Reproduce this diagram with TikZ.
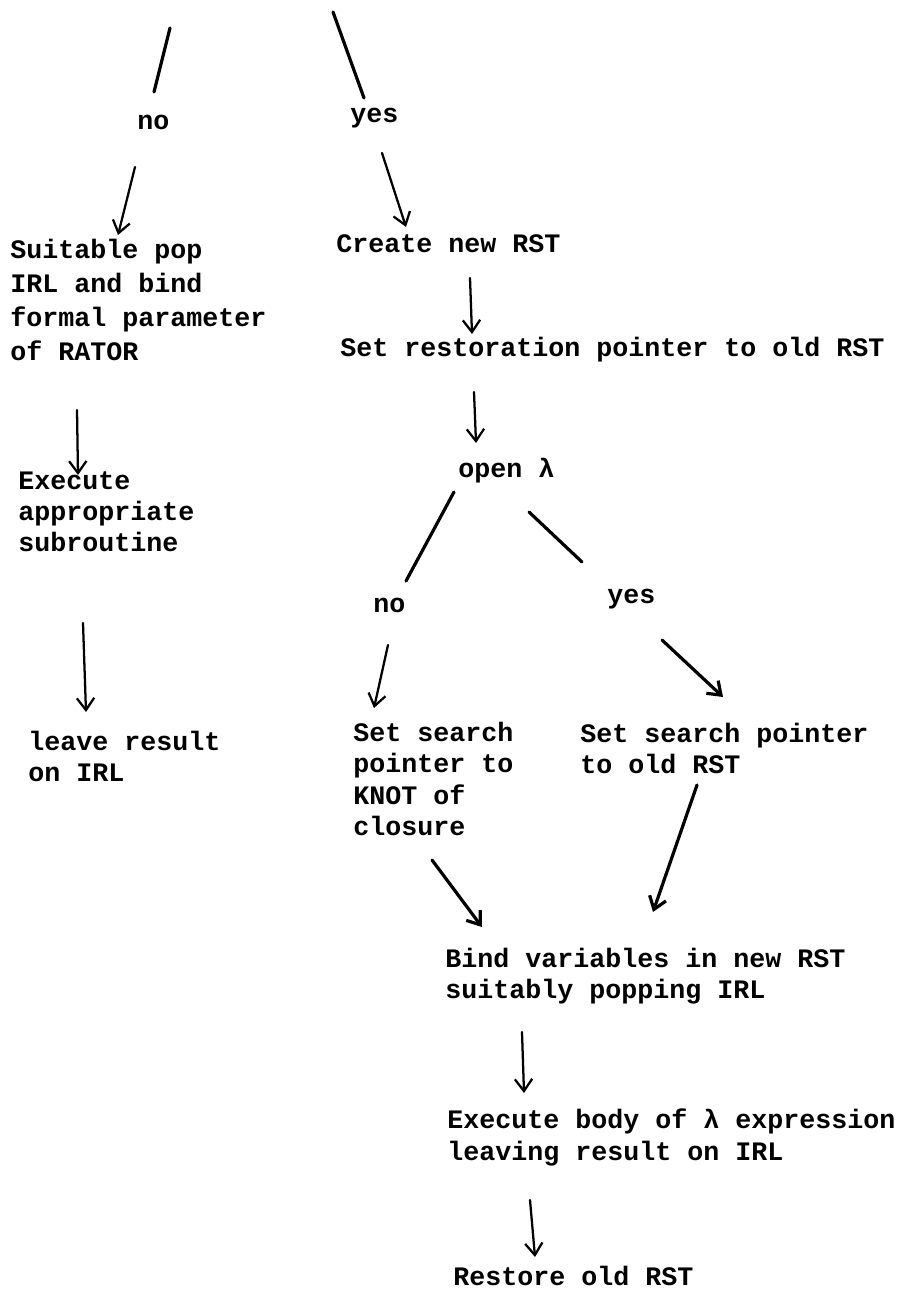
\documentclass[tikz,border=0pt]{standalone}
\usepackage{fontspec}
\setmonofont{Liberation Mono}
\usetikzlibrary{arrows.meta,calc}

\tikzset{
  txt/.style={inner sep=0pt, align=left, font=\ttfamily\bfseries\fontsize{20}{23.5}\selectfont},
  wire/.style={line width=1.7pt, line cap=round},
  heavy/.style={line width=2.4pt, line cap=round},
  arr/.style={-{Straight Barb[length=9pt,width=13pt]}},
}

\begin{document}
\begin{tikzpicture}[x=0.75pt,y=-0.75pt]
    \useasboundingbox (0,0) rectangle (917,1294);
    % left branch
    \coordinate (topno) at (170,28);
    \coordinate (topyes) at (333,12);
    \node[txt,anchor=base west] (no1) at (137,130) {no};
    \node[txt,anchor=base west] (yes1) at (350,123) {yes};
    \node[txt,anchor=north west,font=\ttfamily\bfseries\fontsize{20}{25.5}\selectfont] (suit) at (10,239)
        {Suitable pop\\IRL and bind\\formal parameter\\of RATOR};
    \node[txt,anchor=north west] (exec1) at (18,471) {Execute\\appropriate\\subroutine};
    \node[txt,anchor=north west] (leave) at (28,731) {leave result\\on IRL};
    % right branch
    \node[txt,anchor=base west] (create) at (336,253) {Create new RST};
    \node[txt,anchor=base west] (setrest) at (340,356) {Set restoration pointer to old RST};
    \node[txt,anchor=base west] (open) at (458,477) {open λ};
    \node[txt,anchor=base west] (no2) at (373,612) {no};
    \node[txt,anchor=base west] (yes2) at (607,603) {yes};
    \node[txt,anchor=north west] (search1) at (353,722) {Set search\\pointer to\\KNOT of\\closure};
    \node[txt,anchor=north west] (search2) at (580,723) {Set search pointer\\to old RST};
    \node[txt,anchor=north west] (bind) at (445,948) {Bind variables in new RST\\suitably popping IRL};
    \node[txt,anchor=north west] (execbody) at (447,1109) {Execute body of λ expression\\leaving result on IRL};
    \node[txt,anchor=base west] (restore) at (453,1285) {Restore old RST};

    \draw[heavy] (topno) -- ($(no1.base west)+(17,-38)$);
    \draw[heavy] (topyes) -- ($(yes1.base west)+(14,-25)$);
    \draw[wire,arr] ($(no1.base west)+(-2,37)$) -- ($(suit.north west)+(108,-4)$);
    \draw[wire,arr] ($(suit.north west)+(67,171)$) -- ($(exec1.north west)+(60,4)$);
    \draw[wire,arr] ($(exec1.north west)+(65,152)$) -- ($(leave.north west)+(58,-19)$);
    \draw[wire,arr] ($(yes1.base west)+(32,30)$) -- ($(create.base west)+(70,-26)$);
    \draw[wire,arr] ($(create.base west)+(134,25)$) -- ($(setrest.base west)+(132,-22)$);
    \draw[wire,arr] ($(setrest.base west)+(134,36)$) -- ($(open.base west)+(18,-34)$);
    \draw[heavy] ($(open.base west)+(-4,15)$) -- ($(no2.base west)+(33,-31)$);
    \draw[heavy] ($(open.base west)+(71,35)$) -- ($(yes2.base west)+(-25,-41)$);
    \draw[wire,arr] ($(no2.base west)+(15,33)$) -- ($(search1.north west)+(21,-14)$);
    \draw[heavy,arr] ($(yes2.base west)+(55,37)$) -- ($(search2.north west)+(143,-26)$);
    \draw[heavy,arr] ($(search1.north west)+(79,138)$) -- ($(bind.north west)+(37,-21)$);
    \draw[heavy,arr] ($(search2.north west)+(117,62)$) -- ($(bind.north west)+(208,-36)$);
    \draw[wire,arr] ($(bind.north west)+(77,84)$) -- ($(execbody.north west)+(77,-16)$);
    \draw[wire,arr] ($(execbody.north west)+(83,91)$) -- ($(restore.base west)+(82,-28)$);
\end{tikzpicture}
\end{document}
